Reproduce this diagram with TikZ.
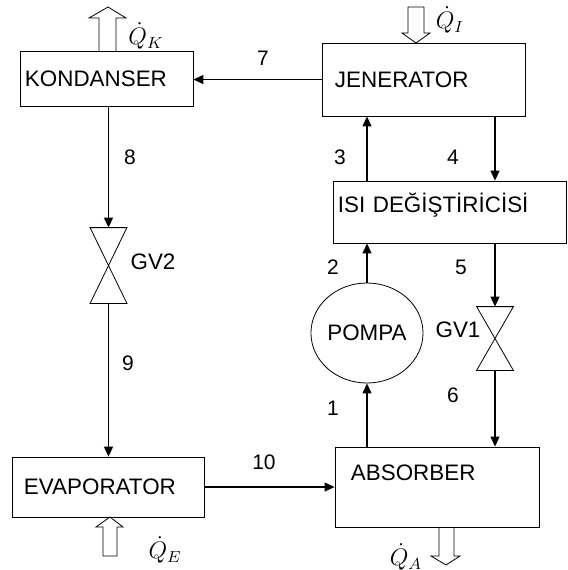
\documentclass[tikz,border=0pt]{standalone}
\usepackage{fontspec}
\setmainfont{Liberation Sans}
\usetikzlibrary{arrows.meta,shapes.geometric}
\begin{document}
\begin{tikzpicture}[x=0.5pt,y=-0.5pt,
  unit/.style={draw,align=left,inner ysep=0pt,font=\fontsize{11.2}{13}\selectfont},
  num/.style={font=\fontsize{10.5}{12}\selectfont},
  flow/.style={-{Triangle[length=5pt,width=4.5pt]},semithick},
  valve/.style={minimum width=18pt,inner sep=0pt},
  heat/.style={inner sep=1pt,font=\fontsize{11.5}{13}\selectfont}]
\useasboundingbox (0,0) rectangle (568,570);

\node[unit,text width=81.5pt,inner xsep=2.5pt,minimum height=27.5pt] (kon) at (106.5,78.5) {KONDANSER};
\node[unit,text width=88.5pt,inner xsep=6.5pt,minimum height=36.5pt] (jen) at (423.5,79.5) {JENERATOR};
\node[unit,text width=111.5pt,inner xsep=2.5pt,minimum height=31pt,text depth=9.5pt] (isi) at (449.5,212) {ISI DEĞİŞTİRİCİSİ};
\node[unit,text width=86pt,inner xsep=8pt,minimum height=40pt,text depth=14.5pt] (abs) at (437,487) {ABSORBER};
\node[unit,text width=84pt,inner xsep=6pt,minimum height=30pt] (eva) at (108,487) {EVAPORATOR};
\node[draw,ellipse,minimum width=44pt,minimum height=50pt,inner sep=0pt,
  font=\fontsize{11.2}{13}\selectfont] (pompa) at (367,333) {POMPA};

% genlesme valfleri
\node[valve,minimum height=37.5pt] (gv2) at (108.5,265.5) {};
\draw (gv2.north west) -- (gv2.north east) -- (gv2.south west) -- (gv2.south east) -- cycle;
\node[valve,minimum height=31.5pt] (gv1) at (495,338.5) {};
\draw (gv1.north west) -- (gv1.north east) -- (gv1.south west) -- (gv1.south east) -- cycle;
\node[font=\fontsize{11.2}{13}\selectfont] at (153,262) {GV2};
\node[font=\fontsize{11.2}{13}\selectfont] at (458,330) {GV1};

% akislar
\draw[flow] (jen.west) -- (jen.west -| kon.east);
\draw[flow] (gv2.north |- kon.south) -- (gv2.north);
\draw[flow] (gv2.south) -- (gv2.south |- eva.north);
\draw[flow] (eva.east) -- (eva.east -| abs.west);
\draw[flow] (pompa.south |- abs.north) -- (pompa.south);
\draw[flow] (pompa.north) -- (pompa.north |- isi.south);
\draw[flow] (pompa.north |- isi.north) -- (pompa.north |- jen.south);
\draw[flow] (gv1.north |- jen.south) -- (gv1.north |- isi.north);
\draw[flow] (gv1.north |- isi.south) -- (gv1.north);
\draw[flow] (gv1.south) -- (gv1.south |- abs.north);

\node[num] at (263,58) {7};
\node[num] at (130,157) {8};
\node[num] at (128,363) {9};
\node[num] at (264,462) {10};
\node[num] at (333,408) {1};
\node[num] at (333,267) {2};
\node[num] at (340,157) {3};
\node[num] at (453,157) {4};
\node[num] at (461,267) {5};
\node[num] at (453,395) {6};

% isi akislari
\draw (99,51) -- (99,18) -- (89,18) -- (108,7) -- (126,18) -- (116,18) -- (116,51);
\draw (408,7) -- (408,33) -- (402,33) -- (416,43) -- (430,33) -- (424,33) -- (424,7) -- cycle;
\draw (103,556) -- (103,527) -- (96,527) -- (110,517) -- (123,527) -- (117,527) -- (117,556) -- cycle;
\draw (439,527) -- (439,556) -- (431,556) -- (446,565) -- (460,556) -- (454,556) -- (454,527);
\node[heat] at (146,36) {$\dot{Q}_K$};
\node[heat] at (450,20) {$\dot{Q}_I$};
\node[heat] at (165,550) {$\dot{Q}_E$};
\node[heat] at (406,557) {$\dot{Q}_A$};
\end{tikzpicture}
\end{document}
